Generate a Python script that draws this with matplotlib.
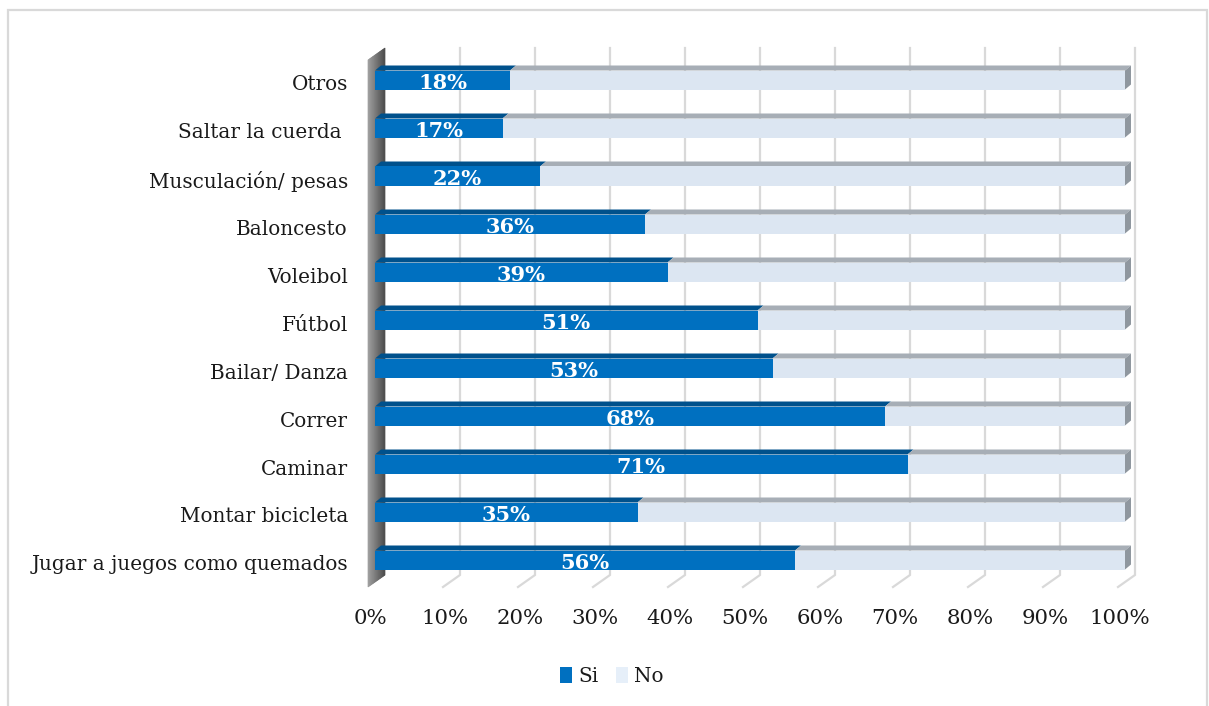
import matplotlib
matplotlib.use("Agg")
import matplotlib.pyplot as plt
import matplotlib.transforms as mtrans
from matplotlib.patches import Polygon, Rectangle, Patch
from matplotlib.colors import to_rgb
import numpy as np

# Activities (top to bottom) and share answering "Si"
categories = ["Otros", "Saltar la cuerda ", "Musculación/ pesas", "Baloncesto",
              "Voleibol", "Fútbol", "Bailar/ Danza", "Correr", "Caminar",
              "Montar bicicleta", "Jugar a juegos como quemados"]
si_values = [18, 17, 22, 36, 39, 51, 53, 68, 71, 35, 56]
no_values = [100 - v for v in si_values]
x_ticks = [0, 10, 20, 30, 40, 50, 60, 70, 80, 90, 100]
x_tick_labels = [f"{t}%" for t in x_ticks]
series_names = ["Si", "No"]

# colours
SI_FRONT = "#0070C0"
SI_TOP = "#00518C"
NO_FRONT = "#DCE6F2"
NO_TOP = "#A7AEB6"
NO_SIDE = "#8F979F"
GRID = "#D9D9D9"
TEXT = "#1a1a1a"
FONT = "DejaVu Serif"

W, H = 1209, 706
fig = plt.figure(figsize=(W / 100, H / 100), dpi=100)

# axes placement (pixels): x 0..100 spans 375..1125, one category = 48 px
ax_left, ax_right = 375, 1125
y_lo, y_hi = -0.95, 10.8
row_px = 48
bottom_row_px = 560
ax_top_px = bottom_row_px - (y_hi) * row_px
ax_bot_px = bottom_row_px - (y_lo) * row_px
ax = fig.add_axes([ax_left / W, 1 - ax_bot_px / H,
                   (ax_right - ax_left) / W, (ax_bot_px - ax_top_px) / H])
ax.set_xlim(0, 100)
ax.set_ylim(y_lo, y_hi)

px_x = (ax_right - ax_left) / 100.0   # pixels per percent
px_y = row_px                         # pixels per category

def dxp(p):
    return p / px_x

def dyp(p):
    return p / px_y

# 3D geometry (in data units)
front_x = dxp(-7)          # front plane of the floor / wall
back_x = dxp(10)           # back wall plane
floor_back_y = dyp(-15)
floor_front_y = dyp(-27)
wall_top_back = dyp(512)
wall_top_front = dyp(500)
bar_h = dyp(19)
top_dx, top_dy = dxp(6), dyp(5)

# back-wall gridlines with their floor segments
for t in x_ticks[1:]:
    xb = t + back_x
    xf = t + front_x
    ax.plot([xb, xb, xf], [wall_top_back, floor_back_y, floor_front_y],
            color=GRID, lw=1.6, zorder=1, clip_on=False, solid_joinstyle="miter")

# left side wall with a horizontal shading
n_strips = 24
c0 = np.array(to_rgb("#a3a3a3"))
c1 = np.array(to_rgb("#4d4d4d"))
for k in range(n_strips):
    f0, f1 = k / n_strips, (k + 1) / n_strips
    xa = front_x + (back_x - front_x) * f0
    xb = front_x + (back_x - front_x) * f1
    ya_b = floor_front_y + (floor_back_y - floor_front_y) * f0
    yb_b = floor_front_y + (floor_back_y - floor_front_y) * f1
    ya_t = wall_top_front + (wall_top_back - wall_top_front) * f0
    yb_t = wall_top_front + (wall_top_back - wall_top_front) * f1
    col = c0 + (c1 - c0) * (f0 + f1) / 2
    ax.add_patch(Polygon([(xa, ya_b), (xb, yb_b), (xb, yb_t), (xa, ya_t)],
                         closed=True, facecolor=col, edgecolor=col, lw=0.5,
                         zorder=2, clip_on=False))

# bars
ypos = np.arange(len(categories))[::-1]
si = np.array(si_values, dtype=float)
no = np.array(no_values, dtype=float)

ax.barh(ypos, si, height=bar_h, color=SI_FRONT, zorder=4, linewidth=0)
ax.barh(ypos, no, left=si, height=bar_h, color=NO_FRONT, zorder=4, linewidth=0)

for y, s, n in zip(ypos, si, no):
    top = y + bar_h / 2
    bot = y - bar_h / 2
    end = s + n
    # top faces
    ax.add_patch(Polygon([(0, top), (s, top), (s + top_dx, top + top_dy),
                          (top_dx, top + top_dy)], closed=True,
                         facecolor=SI_TOP, edgecolor="none", zorder=3, clip_on=False))
    ax.add_patch(Polygon([(s, top), (end, top), (end + top_dx, top + top_dy),
                          (s + top_dx, top + top_dy)], closed=True,
                         facecolor=NO_TOP, edgecolor="none", zorder=3, clip_on=False))
    # right end face
    ax.add_patch(Polygon([(end, bot), (end, top), (end + top_dx, top + top_dy),
                          (end + top_dx, bot + top_dy)], closed=True,
                         facecolor=NO_SIDE, edgecolor="none", zorder=3, clip_on=False))
    # value label
    ax.text(s / 2, y - 0.06, f"{int(s)}%", ha="center", va="center",
            color="white", fontsize=15, fontweight="bold", family=FONT, zorder=6)

# axes styling
for sp in ax.spines.values():
    sp.set_visible(False)
ax.set_yticks(ypos)
ax.set_yticklabels(categories, family=FONT, fontsize=14.4, color=TEXT)
ax.set_xticks(x_ticks)
ax.set_xticklabels(x_tick_labels, family=FONT, fontsize=15.3, color=TEXT)
ax.tick_params(axis="y", length=0, pad=19.5)
ax.tick_params(axis="x", length=0, pad=2.5)
shift_x = mtrans.ScaledTranslation(-5 / 100, 0, fig.dpi_scale_trans)
for lbl in ax.get_xticklabels():
    lbl.set_transform(lbl.get_transform() + shift_x)
shift_y = mtrans.ScaledTranslation(0, -3 / 100, fig.dpi_scale_trans)
for lbl in ax.get_yticklabels():
    lbl.set_transform(lbl.get_transform() + shift_y)
ax.patch.set_visible(False)

# legend
handles = [Patch(facecolor=SI_FRONT, edgecolor="none"),
           Patch(facecolor="#E6EFF9", edgecolor="none")]
leg = fig.legend(handles, series_names, loc="center",
                 bbox_to_anchor=(612 / W, 1 - 676 / H), ncol=2, frameon=False,
                 handlelength=0.6, handleheight=0.85, handletextpad=0.3,
                 columnspacing=0.9, prop={"family": FONT, "size": 14.4})
for t in leg.get_texts():
    t.set_color(TEXT)

# chart frame
fig.patches.append(Rectangle((8 / W, -0.05), (1207 - 8) / W, 1.05 - 10 / H,
                             transform=fig.transFigure, fill=False,
                             edgecolor="#D9D9D9", lw=1.6, zorder=0))

fig.savefig("out.png", dpi=100)
